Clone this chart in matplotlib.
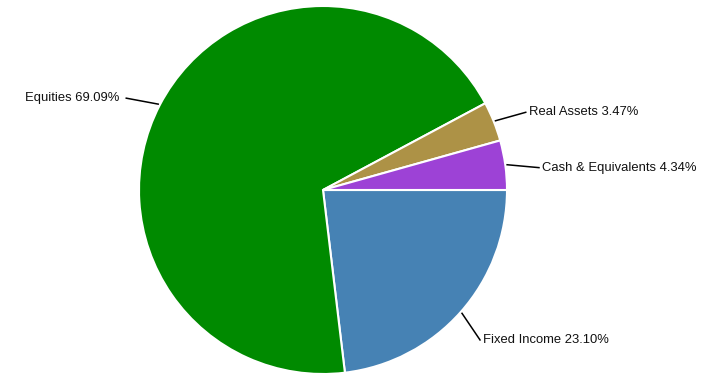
import numpy as np
import matplotlib
matplotlib.use('Agg')
import matplotlib.pyplot as plt

# Portfolio allocation
labels = ['Fixed Income', 'Equities', 'Real Assets', 'Cash & Equivalents']
shares = [23.10, 69.09, 3.47, 4.34]
colors = ['#4682B4', '#008A00', '#AD9246', '#9D42D6']
# small angle shifts (deg) so labels sit where the original put them
label_shift = [-2.1, 2.5, -0.9, -1.9]

plt.rcParams['font.family'] = ['Liberation Sans', 'DejaVu Sans']

fig = plt.figure(figsize=(7.06, 3.76), dpi=100)
ax = fig.add_axes([0, 0, 1, 1])

cx, cy, r = 323, 186, 184
wedges, _ = ax.pie(shares, colors=colors, startangle=0, counterclock=False,
                   center=(cx, cy), radius=r,
                   wedgeprops=dict(edgecolor='white', linewidth=1.5))

for w, lab, val, sh in zip(wedges, labels, shares, label_shift):
    mid = np.deg2rad((w.theta1 + w.theta2) / 2)
    a2 = mid + np.deg2rad(sh)
    x0, y0 = cx + 1.01 * r * np.cos(mid), cy + 1.01 * r * np.sin(mid)
    x1, y1 = cx + 1.18 * r * np.cos(a2), cy + 1.18 * r * np.sin(a2)
    ax.plot([x0, x1], [y0, y1], color='black', lw=1.1)
    right = np.cos(a2) >= 0
    ax.text(x1 + (3 if right else -7), y1, f'{lab} {val:.2f}%',
            ha='left' if right else 'right', va='center',
            fontsize=9.4, color='#111111')

ax.set_xlim(0, 706)
ax.set_ylim(0, 376)
ax.axis('off')
fig.savefig('out.png', dpi=100)
